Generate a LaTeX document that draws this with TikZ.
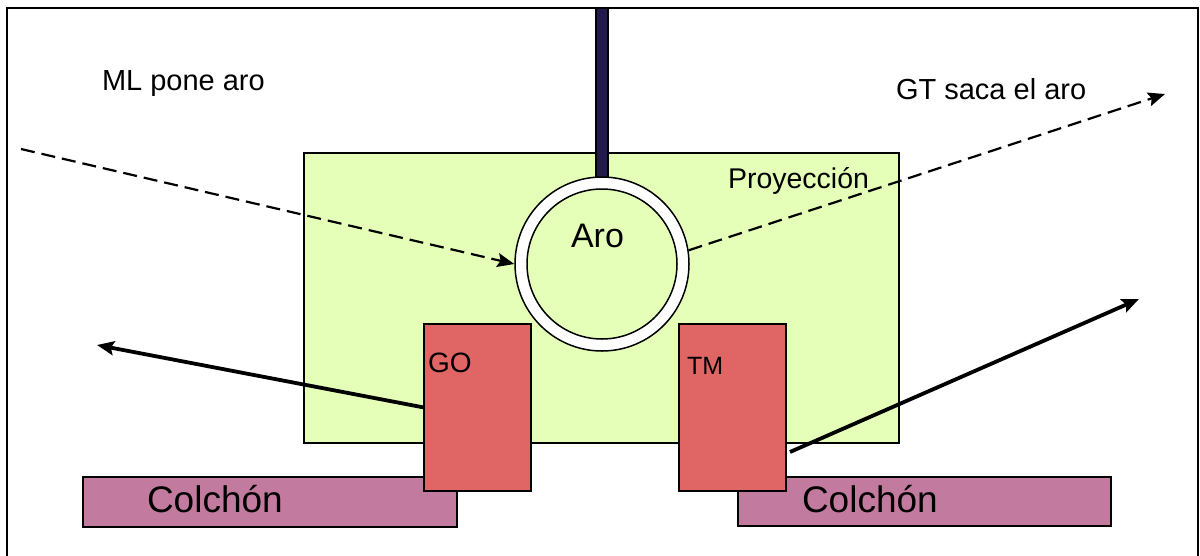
\documentclass[tikz,border=0pt]{standalone}
\usepackage{fontspec}
\setmainfont{Liberation Sans}
\usetikzlibrary{arrows.meta}
\definecolor{projfill}{RGB}{229,255,184}
\definecolor{boxred}{RGB}{224,102,102}
\definecolor{mattress}{RGB}{194,122,158}
\definecolor{rodfill}{RGB}{34,26,76}
\begin{document}
\begin{tikzpicture}[x=1pt,y=-1pt,
  box/.style={draw=black, line width=1.5pt, inner sep=0pt, outer sep=0pt, anchor=north west},
  lbl/.style={inner sep=0pt, outer sep=0pt, anchor=base west, font=\fontsize{29}{34}\selectfont},
  tip/.style={-{Stealth[length=17pt,width=14pt,inset=3pt]}},
  dasharrow/.style={tip, line width=2.2pt, dash pattern=on 14pt off 7pt},
  solidarrow/.style={tip, line width=3.8pt}
]
\useasboundingbox (0,0) rectangle (1200,555);
% frame
\draw[line width=2pt] (7,556) -- (7,8) -- (1198,8) -- (1198,556);
% projection area
\node[box, fill=projfill, minimum width=595pt, minimum height=290pt] (proj) at (304,153) {};
% rod
\node[box, fill=rodfill, minimum width=12pt, minimum height=170pt] (rod) at (596,8) {};
% ring
\node[circle, draw=black, line width=1.5pt, fill=white, minimum size=174pt, inner sep=0pt] (ringout) at (602,264) {};
\node[circle, draw=black, line width=1.5pt, fill=projfill, minimum size=150pt, inner sep=0pt] (ringin) at (602,264) {};
\node[lbl, font=\fontsize{34}{40}\selectfont] (arotxt) at (571,247) {Aro};
% mattresses
\node[box, fill=mattress, minimum width=374pt, minimum height=50pt] (matl) at (83,477) {};
\node[box, fill=mattress, minimum width=373pt, minimum height=49pt] (matr) at (738,477) {};
\node[lbl, font=\fontsize{37}{44}\selectfont] (matltxt) at (147,512) {Colchón};
\node[lbl, font=\fontsize{37}{44}\selectfont] (matrtxt) at (802,512) {Colchón};
% players
\node[box, fill=boxred, minimum width=107pt, minimum height=167pt] (go) at (424,324) {};
\node[box, fill=boxred, minimum width=107pt, minimum height=167pt] (tm) at (679,324) {};
\node[lbl, font=\fontsize{28}{34}\selectfont] (gotxt) at (428,372) {GO};
\node[lbl, font=\fontsize{25}{30}\selectfont] (tmtxt) at (687,374) {TM};
% labels
\node[lbl] (ml) at (102,90) {ML pone aro};
\node[lbl] (gt) at (896,99) {GT saca el aro};
\node[lbl, font=\fontsize{28.5}{34}\selectfont] (projtxt) at (728,188) {Proyección};
% connectors
\coordinate (mlstart) at (21,149);
\coordinate (gtend) at (1165,94);
\coordinate (goend) at (97,345);
\coordinate (tmstart) at (790,452);
\coordinate (tmend) at (1139,299);
\draw[dasharrow] (mlstart) -- (ringout.west);
\draw[dasharrow] (ringout.9) -- (gtend);
\draw[solidarrow] (go.west) -- (goend);
\draw[solidarrow] (tmstart) -- (tmend);
\end{tikzpicture}
\end{document}
